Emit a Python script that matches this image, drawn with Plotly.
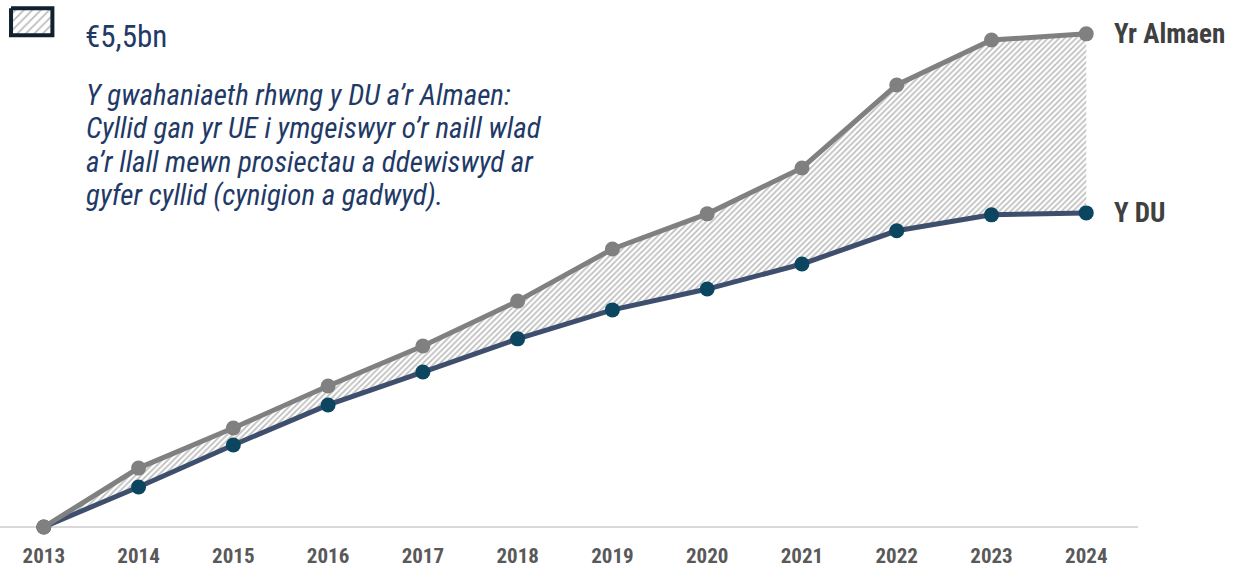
import plotly.graph_objects as go

years = [2013, 2014, 2015, 2016, 2017, 2018, 2019, 2020, 2021, 2022, 2023, 2024]
germany = [0, 1.81, 3.04, 4.33, 5.56, 6.94, 8.54, 9.62, 11.03, 13.58, 14.96, 15.15]
uk = [0, 1.23, 2.52, 3.75, 4.76, 5.78, 6.67, 7.31, 8.08, 9.10, 9.59, 9.65]
series_names = ["Y DU", "Yr Almaen"]
legend_label = "€5,5bn"
note_lines = [
    "Y gwahaniaeth rhwng y DU a’r Almaen:",
    "Cyllid gan yr UE i ymgeiswyr o’r naill wlad",
    "a’r llall mewn prosiectau a ddewiswyd ar",
    "gyfer cyllid (cynigion a gadwyd).",
]

NARROW = "Liberation Sans Narrow, Arial Narrow, Roboto Condensed, DejaVu Sans Condensed, sans-serif"
GREY = "#808080"
UK_LINE = "#3e4f6e"
UK_MARK = "#0b4560"
NAVY = "#1f3a66"
HATCH = dict(shape="/", fgcolor="#7a7a7a", bgcolor="white", size=4, solidity=0.4)

fig = go.Figure()

fig.add_trace(go.Scatter(
    x=years, y=uk, mode="lines+markers", name=series_names[0],
    line=dict(color=UK_LINE, width=5),
    marker=dict(color=UK_MARK, size=15),
    showlegend=False, cliponaxis=False,
))
fig.add_trace(go.Scatter(
    x=years, y=germany, mode="lines+markers", name=series_names[1],
    line=dict(color=GREY, width=5),
    marker=dict(color=GREY, size=15),
    fill="tonexty", fillcolor="rgba(0,0,0,0)",
    fillpattern=HATCH,
    showlegend=False, cliponaxis=False,
))

# legend swatch on overlay pixel axes
fig.add_trace(go.Scatter(
    x=[12, 57, 57, 12, 12], y=[9, 9, 38, 38, 9], mode="lines",
    xaxis="x2", yaxis="y2", fill="toself", fillcolor="rgba(0,0,0,0)",
    fillpattern=dict(shape="/", fgcolor="#7a7a7a", bgcolor="white", size=6, solidity=0.3),
    line=dict(color="#10202f", width=4), showlegend=False, hoverinfo="skip",
))

# end labels
for val, name in [(germany[-1], series_names[1]), (uk[-1], series_names[0])]:
    fig.add_annotation(x=years[-1], y=val, text="<b>" + name + "</b>",
                       xanchor="left", yanchor="middle", xshift=26, showarrow=False,
                       font=dict(family=NARROW, size=27, color="#404040"))

fig.add_annotation(x=90, y=39, xref="x2", yref="y2", text=legend_label,
                   xanchor="left", yanchor="middle", showarrow=False,
                   font=dict(family=NARROW, size=31, color=NAVY))
for i, line in enumerate(note_lines):
    fig.add_annotation(x=91, y=102 + 36 * i, xref="x2", yref="y2",
                       text="<i>" + line + "</i>",
                       xanchor="left", yanchor="middle", align="left", showarrow=False,
                       font=dict(family=NARROW, size=29, color=NAVY))

fig.update_layout(
    width=1238, height=567,
    margin=dict(l=0, r=100, t=0, b=40),
    paper_bgcolor="white", plot_bgcolor="white",
    xaxis=dict(range=[2012.538, 2024.546], tickmode="array", tickvals=years,
               ticktext=["<b>%d</b>" % y for y in years],
               tickfont=dict(family=NARROW, size=21, color="#595959"),
               ticklabelstandoff=14,
               showgrid=False, zeroline=False, showline=False, ticks="", ticklen=0),
    yaxis=dict(range=[0, 16.19], showgrid=False, zeroline=True, zerolinecolor="#d9d9d9",
               zerolinewidth=1.5, showticklabels=False, showline=False),
    xaxis2=dict(domain=[0, 1], range=[0, 1238], visible=False, overlaying="x", anchor="free"),
    yaxis2=dict(domain=[0, 1], range=[567, 0], visible=False, overlaying="y", anchor="free"),
)

fig.write_html("out.html", config={"displayModeBar": False},
               post_script="document.body.style.margin='0';")
